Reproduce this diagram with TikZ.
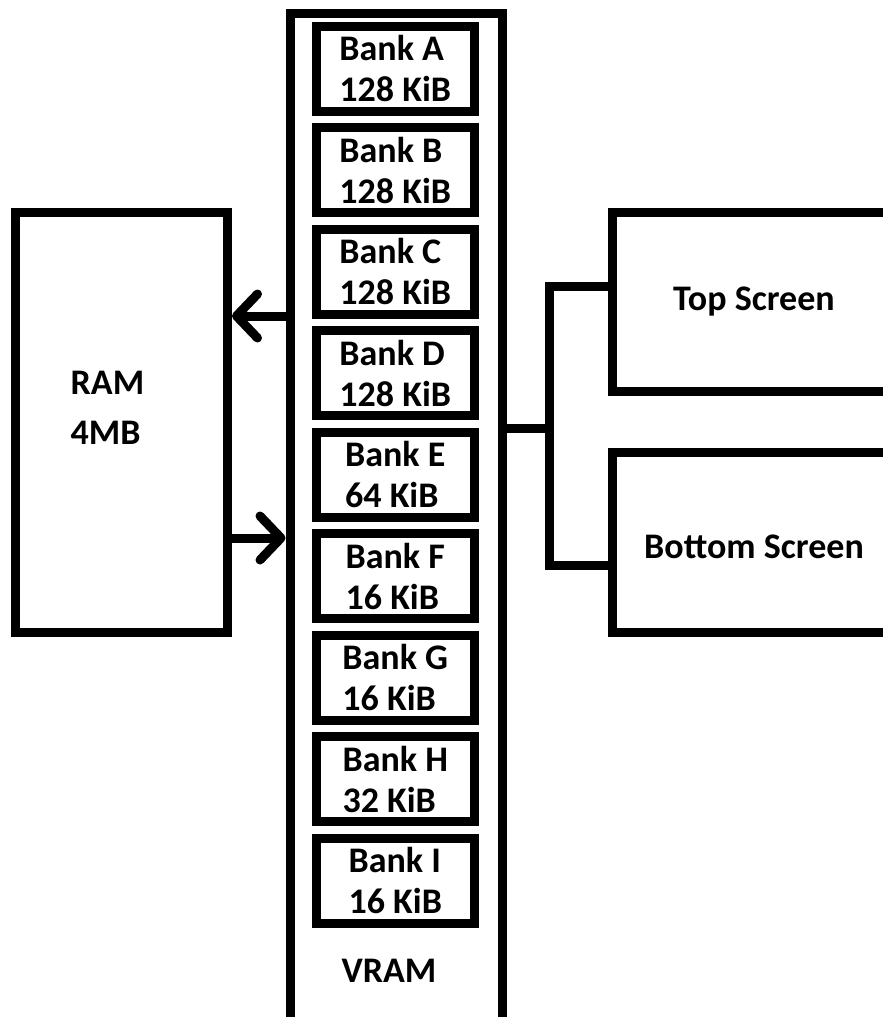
\documentclass[tikz,border=0pt]{standalone}
\usepackage{fontspec}
\setmainfont{Carlito}
\usepackage{tikz}
\usetikzlibrary{arrows.meta, calc}

\tikzset{
box/.style={draw, line width=9pt, font=\bfseries\fontsize{36}{41}\selectfont},
bank/.style={box, minimum width=158.5pt, minimum height=85pt, align=left},
txt/.style={font=\bfseries\fontsize{36}{41}\selectfont, align=left},
wire/.style={line width=9pt},
arr/.style={wire, -{Straight Barb[length=21pt, width=44pt, round]}}
}

\begin{document}
\begin{tikzpicture}[x=1pt, y=-1pt]
\useasboundingbox (0,0) rectangle (883,1017);
\node[box, minimum width=212.5pt, minimum height=1012pt] (vram) at (396.25,519) {};
\foreach \n/\s [count=\i from 0] in {A/128,B/128,C/128,D/128,E/64,F/16,G/16,H/32,I/16}
  \node[bank] (bank\n) at (395.25,{68.5+101.56*\i}) {Bank \n\\\s~KiB};
\node[txt] (vramlbl) at (389,971) {VRAM};
\node[box, minimum width=212pt, minimum height=420pt] (ram) at (121.5,422) {};
\node[txt] (ramlbl) at (107.5,408) {RAM\\[9pt]4MB};
\node[box, minimum width=284pt, minimum height=179pt] (top) at (754,302) {Top Screen};
\node[box, minimum width=284pt, minimum height=179.5pt, text height=32pt] (bot) at (754,542.25) {Bottom Screen};
\coordinate (bus) at (549.5,428.5);
\draw[arr] ([yshift=203pt]vram.west) -- ([yshift=106pt]ram.east);
\draw[arr] ([yshift=-116pt]ram.east) -- ([yshift=-19pt]vram.west);
\draw[wire] (vram.east |- bus) -- (bus);
\draw[wire] ([yshift=16pt]top.west) -| (bus) |- ([yshift=-23.5pt]bot.west);
\end{tikzpicture}
\end{document}
